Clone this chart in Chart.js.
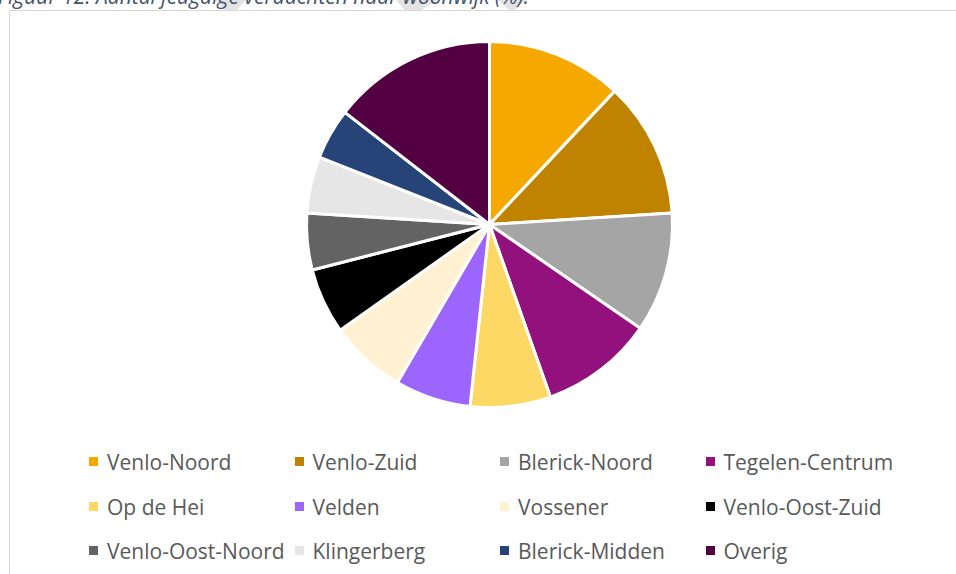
<!DOCTYPE html>
<html>
<head>
<meta charset="utf-8">
<script src="https://cdn.jsdelivr.net/npm/chart.js@4"></script>
<style>
  body { margin: 0; background: #fff; width: 956px; height: 574px; overflow: hidden; position: relative; font-family: "Open Sans", sans-serif; }
  #caption { position: absolute; left: -2px; top: -18px; font-size: 21px; font-style: italic; color: #44546a; white-space: nowrap; z-index: 2; }
  .mark { position: absolute; top: 0; height: 10px; background: #e3e3e3; z-index: 1; }
  #frame { position: absolute; left: 9px; top: 10px; width: 980px; height: 600px; border: 1.5px solid #d9d9d9; box-sizing: border-box; background: #fff; z-index: 3; }
  #pieBox { position: absolute; left: 299px; top: 34px; width: 381px; height: 381px; z-index: 4; }
  #legend { position: absolute; left: 0; top: 0; z-index: 4; }
  .item { position: absolute; font-size: 21px; color: #595959; white-space: nowrap; line-height: 24px; }
  .item span.box { position: absolute; left: 0; top: 7px; width: 9px; height: 9px; }
  .item span.lbl { position: absolute; left: 18px; top: 0; }
</style>
</head>
<body>
<div class="mark" style="left:216px;width:30px;clip-path:polygon(0 0,100% 0,70% 100%,30% 100%)"></div>
<div class="mark" style="left:396px;width:42px;clip-path:polygon(0 0,100% 0,60% 100%,20% 100%)"></div>
<div class="mark" style="left:498px;width:28px;clip-path:polygon(0 0,100% 0,60% 100%,40% 100%)"></div>
<div id="caption">Figuur 12: Aantal jeugdige verdachten naar woonwijk (%).</div>
<div id="frame"></div>
<div id="pieBox"><canvas id="chart" width="381" height="381"></canvas></div>
<div id="legend"></div>
<script>
const wijken = ['Venlo-Noord', 'Venlo-Zuid', 'Blerick-Noord', 'Tegelen-Centrum', 'Op de Hei', 'Velden',
                'Vossener', 'Venlo-Oost-Zuid', 'Venlo-Oost-Noord', 'Klingerberg', 'Blerick-Midden', 'Overig'];
const percentages = [12.0, 12.0, 10.6, 10.0, 7.1, 6.7, 6.8, 5.8, 5.0, 5.0, 4.5, 14.5];
const kleuren = ['#f5a800', '#bf8300', '#a5a5a5', '#92117c', '#fdd865', '#9c65fc',
                 '#fff1d2', '#000000', '#636363', '#e6e6e6', '#264478', '#520042'];

new Chart(document.getElementById('chart').getContext('2d'), {
    type: 'pie',
    data: {
        labels: wijken,
        datasets: [{
            data: percentages,
            backgroundColor: kleuren,
            borderColor: '#ffffff',
            borderWidth: 3
        }]
    },
    options: {
        responsive: false,
        animation: false,
        radius: 183,
        layout: { padding: 0 },
        plugins: {
            legend: { display: false },
            tooltip: { enabled: false }
        }
    }
});

// legenda in 4 kolommen, 3 rijen
const legend = document.getElementById('legend');
wijken.forEach((wijk, i) => {
    const col = i % 4;
    const row = Math.floor(i / 4);
    const item = document.createElement('div');
    item.className = 'item';
    item.style.left = (89 + col * 205.5) + 'px';
    item.style.top = (450 + row * 44.5) + 'px';
    item.innerHTML = `<span class="box" style="background:${kleuren[i]}"></span><span class="lbl">${wijk}</span>`;
    legend.appendChild(item);
});
</script>
</body>
</html>
